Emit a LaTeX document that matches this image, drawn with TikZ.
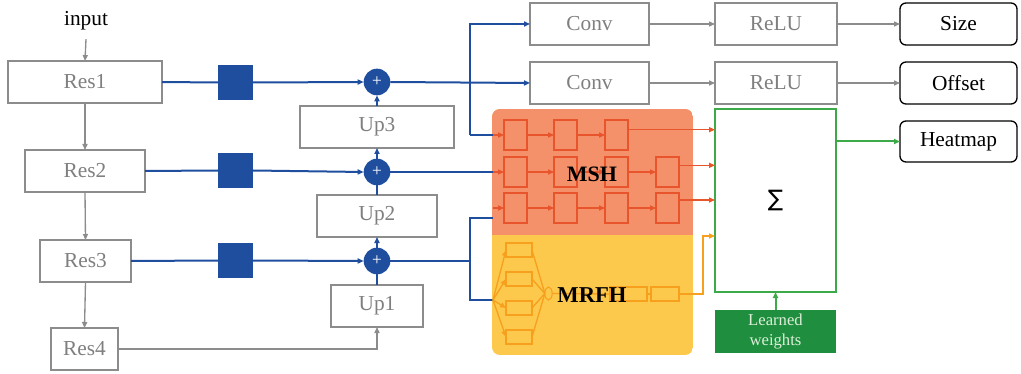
\documentclass[tikz,border=0pt]{standalone}
\usepackage{fontspec}
\setmainfont{Liberation Serif}
\newfontfamily\dejavu{DejaVu Sans}
\usetikzlibrary{arrows.meta,shapes.geometric}
\definecolor{gbord}{HTML}{8C8C8C}
\definecolor{gtext}{HTML}{7F7F7F}
\definecolor{cblue}{HTML}{1F4E9F}
\definecolor{csalmon}{HTML}{F4906A}
\definecolor{cyellow}{HTML}{FDC94C}
\definecolor{cred}{HTML}{E8542B}
\definecolor{corange}{HTML}{F7A01E}
\definecolor{cgreen}{HTML}{3DAA4A}
\definecolor{cdkgreen}{HTML}{1F8F3F}
\definecolor{clight}{HTML}{DDEFD8}
\newcommand\bx[7]{\node[#6, minimum width={(#4-#2)*0.75pt}, minimum height={(#5-#3)*0.75pt}] (#1) at ({(#2+#4)/2},{(#3+#5)/2}) {#7};}
\tikzset{
  lbl/.style={font=\fontsize{16}{19}\selectfont},
  graybox/.style={draw=gbord, line width=1pt, text=gtext, inner sep=0pt, outer sep=0pt, lbl},
  blackbox/.style={draw=black, line width=1pt, rounded corners=4.5pt, text=black, inner sep=0pt, outer sep=0pt, lbl},
  bsq/.style={fill=cblue, draw=none, inner sep=0pt, outer sep=0pt},
  plus/.style={circle, fill=cblue, minimum size=20pt, inner sep=0pt, outer sep=0pt, text=white, font=\fontsize{13}{13}\selectfont},
  mbox/.style={draw=cred, line width=0.8pt, inner sep=0pt, outer sep=0pt},
  rbox/.style={draw=corange, line width=0.8pt, inner sep=0pt, outer sep=0pt},
  ar/.style={-{Triangle[length=4.5pt,width=3.8pt]}},
  gline/.style={draw=gbord, line width=1pt},
  bline/.style={draw=cblue, line width=1.5pt},
  rline/.style={draw=cred, line width=1pt},
  oline/.style={draw=corange, line width=1pt},
  grline/.style={draw=cgreen, line width=1.5pt},
}
\begin{document}
\begin{tikzpicture}[x=0.75pt,y=-0.75pt]
\useasboundingbox (0,0) rectangle (1021,374);
% background regions
\begin{scope}
\clip[rounded corners=6pt] (492,109) rectangle (693,355);
\fill[cyellow] (492,109) rectangle (693,355);
\fill[csalmon] (492,109) rectangle (693,235);
\end{scope}
% left column
\node[lbl, text=black] (input) at (86,21) {input};
\bx{res1}{8}{61}{162}{103}{graybox}{Res1}
\bx{res2}{25}{150}{145}{192}{graybox}{Res2}
\bx{res3}{40}{240}{131}{282}{graybox}{Res3}
\bx{res4}{51}{328}{118}{370}{graybox}{Res4}
\draw[gline, ar] (input.south) ++(0,4) -- (res1.north);
\draw[gline, ar] (res1.south) -- (res2.north);
\draw[gline, ar] (res2.south) -- (res3.north);
\draw[gline, ar] (res3.south) -- (res4.north);
% squares
\bx{sq1}{218}{65}{253}{100}{bsq}{}
\bx{sq2}{218}{153}{253}{188}{bsq}{}
\bx{sq3}{218}{243}{253}{278}{bsq}{}
% plus circles
\node[plus] (p1) at (377,82) {+};
\node[plus] (p2) at (377,172) {+};
\node[plus] (p3) at (377,261) {+};
% up boxes
\bx{up3}{300}{106}{454}{148}{graybox}{Up3}
\bx{up2}{317}{195}{437}{237}{graybox}{Up2}
\bx{up1}{331}{285}{423}{327}{graybox}{Up1}
% blue connections
\draw[bline] (res1.east) -- (sq1.west);
\draw[bline, ar] (sq1.east) -- (p1.west);
\draw[bline] (res2.east) -- (sq2.west);
\draw[bline, ar] (sq2.east) -- (p2.west);
\draw[bline] (res3.east) -- (sq3.west);
\draw[bline, ar] (sq3.east) -- (p3.west);
\draw[gline, ar] (res4.east) -| (up1.south);
\draw[bline] (up1.north) -- (p3.south);
\draw[bline, ar] (p3.north) -- (up2.south);
\draw[bline] (up2.north) -- (p2.south);
\draw[bline, ar] (p2.north) -- (up3.south);
\draw[bline, ar] (up3.north) -- (p1.south);
% heads top
\bx{conv1}{530}{3}{649}{45}{graybox}{Conv}
\bx{relu1}{715}{3}{837}{45}{graybox}{ReLU}
\bx{size}{900}{3}{1017}{45}{blackbox}{Size}
\bx{conv2}{530}{62}{649}{104}{graybox}{Conv}
\bx{relu2}{715}{62}{837}{104}{graybox}{ReLU}
\bx{offset}{900}{62}{1017}{104}{blackbox}{Offset}
\bx{heat}{900}{121}{1017}{162}{blackbox}{Heatmap}
\draw[gline, ar] (conv1.east) -- (relu1.west);
\draw[gline, ar] (relu1.east) -- (size.west);
\draw[gline, ar] (conv2.east) -- (relu2.west);
\draw[gline, ar] (relu2.east) -- (offset.west);
% MSH boxes
\bx{m11}{504}{120}{527}{150}{mbox}{}
\bx{m12}{554}{120}{577}{150}{mbox}{}
\bx{m13}{605}{120}{628}{150}{mbox}{}
\bx{m21}{504}{157}{527}{187}{mbox}{}
\bx{m22}{554}{157}{577}{187}{mbox}{}
\bx{m23}{605}{157}{628}{187}{mbox}{}
\bx{m24}{656}{157}{679}{187}{mbox}{}
\bx{m31}{504}{193}{527}{223}{mbox}{}
\bx{m32}{554}{193}{577}{223}{mbox}{}
\bx{m33}{605}{193}{628}{223}{mbox}{}
\bx{m34}{656}{193}{679}{223}{mbox}{}
\draw[rline, ar] (m11.east) -- (m12.west);
\draw[rline, ar] (m12.east) -- (m13.west);
\draw[rline, ar] (m21.east) -- (m22.west);
\draw[rline, ar] (m22.east) -- (m23.west);
\draw[rline, ar] (m23.east) -- (m24.west);
\draw[rline, ar] (m31.east) -- (m32.west);
\draw[rline, ar] (m32.east) -- (m33.west);
\draw[rline, ar] (m33.east) -- (m34.west);
% branch coordinates
\coordinate (j1) at (470,135);
\coordinate (e1) at (493,135);
\coordinate (e2) at (493,172);
\coordinate (j3) at (470,261);
\coordinate (e3) at (493,218);
\coordinate (e3b) at (493,208);
\coordinate (e4) at (493,300);
\draw[bline, ar] (p1.east) -- (conv2.west);
\draw[bline, ar] (j1) |- (conv1.west);
\draw[bline] (j1) -- (e1);
\draw[rline, ar] (e1) -- (m11.west);
\draw[bline] (p2.east) -- (e2);
\draw[rline, ar] (e2) -- (m21.west);
\draw[bline] (p3.east) -- (j3);
\draw[bline] (e3) -| (j3);
\draw[bline] (j3) |- (e4);
\draw[rline, ar] (e3b) -- (m31.west);
% MRFH boxes
\bx{rf1}{506}{243}{532}{257}{rbox}{}
\bx{rf2}{506}{272}{532}{286}{rbox}{}
\bx{rf3}{506}{301}{532}{315}{rbox}{}
\bx{rf4}{506}{330}{532}{344}{rbox}{}
\node[ellipse, draw=corange, line width=0.8pt, minimum width=5.5pt, minimum height=9.75pt, inner sep=0pt, outer sep=0pt] (ell) at (548.5,293.5) {};
\bx{ma}{610}{287}{647}{301}{rbox}{}
\bx{mb}{651}{287}{679}{301}{rbox}{}
\foreach \r in {rf1,rf2,rf3,rf4}{
  \draw[oline, ar] (e4) -- (\r.west);
  \draw[oline] (\r.east) -- (ell.west);
}
\draw[oline] (ell.east) -- (ma.west);
\draw[oline] (ma.east) -- (mb.west);
% sigma box
\bx{sig}{715}{109}{836}{292}{draw=cgreen, line width=1.2pt, fill=white, inner sep=0pt, outer sep=0pt}{}
\node[font=\dejavu\fontsize{17}{17}\selectfont] (sigma) at (sig.center) {∑};
\bx{lw}{715}{310}{836}{353}{fill=cdkgreen, text=clight, inner sep=0pt, outer sep=0pt, align=center, font=\fontsize{12.5}{15}\selectfont}{Learned\\weights}
\draw[grline, ar] (lw.north) -- (sig.south);
\draw[grline, ar] (heat.west -| sig.east) -- (heat.west);
\draw[rline, ar] ([yshift=4pt]m13.east) -- ([yshift=4pt]m13.east -| sig.west);
\draw[rline, ar] ([yshift=5pt]m24.east) -- ([yshift=5pt]m24.east -| sig.west);
\draw[rline, ar] ([yshift=6pt]m34.east) -- ([yshift=6pt]m34.east -| sig.west);
\coordinate (kk) at (703,236);
\draw[oline, ar] (mb.east) -| (kk) -- (kk -| sig.west);
% labels
\node[font=\bfseries\fontsize{16.5}{19}\selectfont] (msh) at (592,174) {MSH};
\node[font=\bfseries\fontsize{17}{19}\selectfont] (mrfh) at (592,295) {MRFH};
\end{tikzpicture}
\end{document}
